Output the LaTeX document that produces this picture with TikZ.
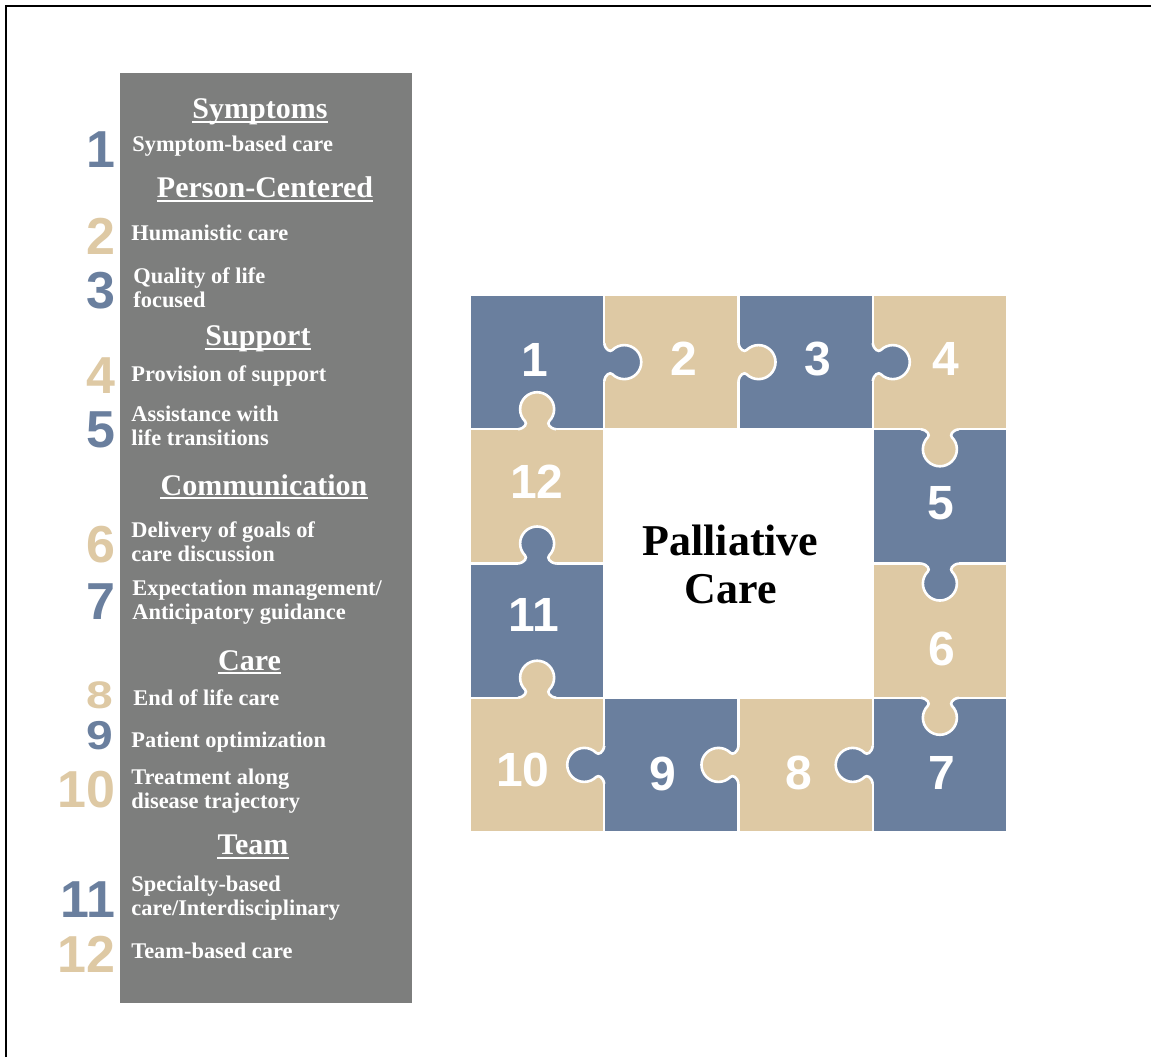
\documentclass[tikz,border=0pt]{standalone}
\usepackage{fontspec}
\setmainfont{Liberation Serif}
\newfontfamily\numfont{Liberation Sans}
\usetikzlibrary{calc}
\definecolor{pblue}{RGB}{106,127,158}
\definecolor{ptan}{RGB}{222,201,164}
\definecolor{panelgray}{RGB}{125,126,125}
\newcommand{\twoline}[2]{\begin{tabular}[t]{@{}l@{}}#1\\#2\end{tabular}}
\newcommand{\knob}[4]{%
  \begin{scope}[shift={(#2,#3)}, rotate=#4]
    \fill[#1] (-4,-19) -- (0,-19) .. controls (1,-12) and (5.9,-9.9) .. (8,-12)
      arc[start angle=-135, end angle=135, radius=17]
      .. controls (5.9,9.9) and (1,12) .. (0,19) -- (-4,19) -- cycle;
    \draw[knobline] (0,-19) .. controls (1,-12) and (5.9,-9.9) .. (8,-12)
      arc[start angle=-135, end angle=135, radius=17]
      .. controls (5.9,9.9) and (1,12) .. (0,19);
  \end{scope}}
\tikzset{
  cellbox/.style={draw=white, line width=1.1pt},
  knobline/.style={draw=white, line width=1.3pt},
  heading/.style={inner sep=0pt, anchor=base, text=white, font=\fontsize{15}{18}\selectfont\bfseries},
  item/.style={inner sep=0pt, anchor=base west, text=white, font=\fontsize{11.2}{12}\selectfont\bfseries},
  leftnum/.style={inner sep=0pt, anchor=base east, font=\numfont\fontsize{26}{26}\selectfont\bfseries},
  smallnum/.style={inner sep=0pt, anchor=base east, font=\numfont\fontsize{24}{24}\selectfont\bfseries},
  pnum/.style={inner sep=0pt, text=white, font=\numfont\fontsize{24}{24}\selectfont\bfseries},
  uline/.style={draw=white, line width=1pt},
}
\begin{document}
\begin{tikzpicture}[x=0.5pt, y=-0.5pt]
\useasboundingbox (0,0) rectangle (1151,1057);
\fill[white] (0,0) rectangle (1151,1057);
\draw[black, line width=1pt] (6,1057) -- (6,6) -- (1151,6);

% left panel
\fill[panelgray] (120,73) rectangle (412,1003);

% headings
\node[heading] (hsym) at (260,118.5) {Symptoms};
\node[heading] (hper) at (265,197.5) {Person-Centered};
\node[heading] (hsup) at (258,345.5) {Support};
\node[heading] (hcom) at (264,495) {Communication};
\node[heading] (hcar) at (249.5,670) {Care};
\node[heading] (htea) at (253,854.5) {Team};
\foreach \h in {hsym,hper,hsup,hcom,hcar,htea}
  \draw[uline] ($(\h.base west)+(0,3)$) -- ($(\h.base east)+(0,3)$);

% items
\node[item] (t1) at (132,151) {Symptom-based care};
\node[item] (t2) at (131,240) {Humanistic care};
\node[item] (t3) at (133,283) {\twoline{Quality of life}{focused}};
\node[item] (t4) at (131,381) {Provision of support};
\node[item] (t5) at (131,421) {\twoline{Assistance with}{life transitions}};
\node[item] (t6) at (131,537) {\twoline{Delivery of goals of}{care discussion}};
\node[item] (t7) at (132,595) {\twoline{Expectation management/}{Anticipatory guidance}};
\node[item] (t8) at (133,705.5) {End of life care};
\node[item] (t9) at (131,747.5) {Patient optimization};
\node[item] (t10) at (131,784.5) {\twoline{Treatment along}{disease trajectory}};
\node[item] (t11) at (131,891.5) {\twoline{Specialty-based}{care/Interdisciplinary}};
\node[item] (t12) at (131,958) {Team-based care};

% left numbers
\node[leftnum, text=pblue] (n1) at (116,167) {1};
\node[leftnum, text=ptan] (n2) at (116,254) {2};
\node[leftnum, text=pblue] (n3) at (116,308) {3};
\node[leftnum, text=ptan] (n4) at (116,393) {4};
\node[leftnum, text=pblue] (n5) at (116,447) {5};
\node[leftnum, text=ptan] (n6) at (116,562) {6};
\node[leftnum, text=pblue] (n7) at (116,619) {7};
\node[smallnum, text=ptan] (n8) at (114,708) {\scalebox{1}[0.8]{8}};
\node[smallnum, text=pblue] (n9) at (114,749) {\scalebox{1}[0.84]{9}};
\node[leftnum, text=ptan] (n10) at (116,807) {10};
\node[leftnum, text=pblue] (n11) at (116,917) {11};
\node[leftnum, text=ptan] (n12) at (116,972) {12};

% puzzle cells
\foreach \c/\r/\col in {0/0/pblue, 1/0/ptan, 2/0/pblue, 3/0/ptan, 3/1/pblue, 3/2/ptan, 3/3/pblue, 2/3/ptan, 1/3/pblue, 0/3/ptan, 0/2/pblue, 0/1/ptan}
  \path[fill=\col, cellbox] ({470+134.25*\c},{295+134.25*\r}) rectangle ++(134.25,134.25);

% knobs
\knob{pblue}{604.25}{362.1}{0}
\knob{ptan}{738.5}{362.1}{0}
\knob{pblue}{872.75}{362.1}{0}
\knob{ptan}{939.9}{429.25}{-90}
\knob{pblue}{939.9}{563.5}{-90}
\knob{ptan}{939.9}{697.75}{-90}
\knob{pblue}{872.75}{764.9}{180}
\knob{ptan}{738.5}{764.9}{180}
\knob{pblue}{604.25}{764.9}{180}
\knob{ptan}{537.1}{697.75}{90}
\knob{pblue}{537.1}{563.5}{90}
\knob{ptan}{537.1}{429.25}{90}

% puzzle numbers
\node[pnum] (p1) at (535,360) {1};
\node[pnum] (p2) at (683.5,359) {2};
\node[pnum] (p3) at (818,359) {3};
\node[pnum] (p4) at (946,359) {4};
\node[pnum] (p5) at (941,503) {5};
\node[pnum] (p6) at (941.5,649) {6};
\node[pnum] (p7) at (941.5,773) {7};
\node[pnum] (p8) at (798.5,773) {8};
\node[pnum] (p9) at (662.5,774) {9};
\node[pnum] (p10) at (523,770) {10};
\node[pnum] (p11) at (534,615) {11};
\node[pnum] (p12) at (537,482) {12};

% centre title
\node[inner sep=0pt, anchor=base, font=\fontsize{22}{24}\selectfont\bfseries] (title) at (730.5,555)
  {\begin{tabular}[t]{@{}c@{}}Palliative\\Care\end{tabular}};
\end{tikzpicture}
\end{document}
